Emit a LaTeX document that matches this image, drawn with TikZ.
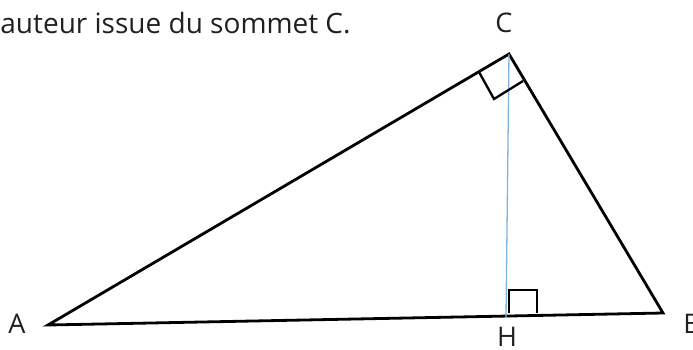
\documentclass[tikz,border=0pt]{standalone}
\usepackage{fontspec}
\setmainfont{Open Sans}
\usetikzlibrary{positioning}

\definecolor{texte}{HTML}{231F20}
\definecolor{hauteur}{HTML}{7FB3E3}

\begin{document}
\begin{tikzpicture}[x=1pt,y=-1pt,line width=2.8pt,
    lettre/.style={text=texte,inner sep=0pt,anchor=base,font=\fontsize{27}{30}\selectfont},
    angledroit/.style={line width=2.3pt}]
  \useasboundingbox (0,0) rectangle (693,349);
  \coordinate (A) at (48,325);
  \coordinate (B) at (663,313);
  \coordinate (C) at (509,54);
  \coordinate (H) at (506,317);
  \draw[line join=miter] (A)--(B)--(C)--cycle;
  \draw[hauteur,line width=1.3pt] (H)--(C);
  % angles droits
  \draw[angledroit] (479,72)--(494,99)--(523,81);
  \draw[angledroit] (509,313)--(509,290)--(537,290)--(537,313);
  % lettres
  \node[lettre] (lA) at (17,333) {A};
  \node[lettre,anchor=base west] (lB) at (682,333) {B};
  \node[lettre] (lC) at (504,32) {C};
  \node[lettre] (lH) at (507,346) {H};
  \node[lettre,anchor=base west,font=\fontsize{28}{30}\selectfont] (titre) at (-1,33) {auteur issue du sommet C.};
\end{tikzpicture}
\end{document}
